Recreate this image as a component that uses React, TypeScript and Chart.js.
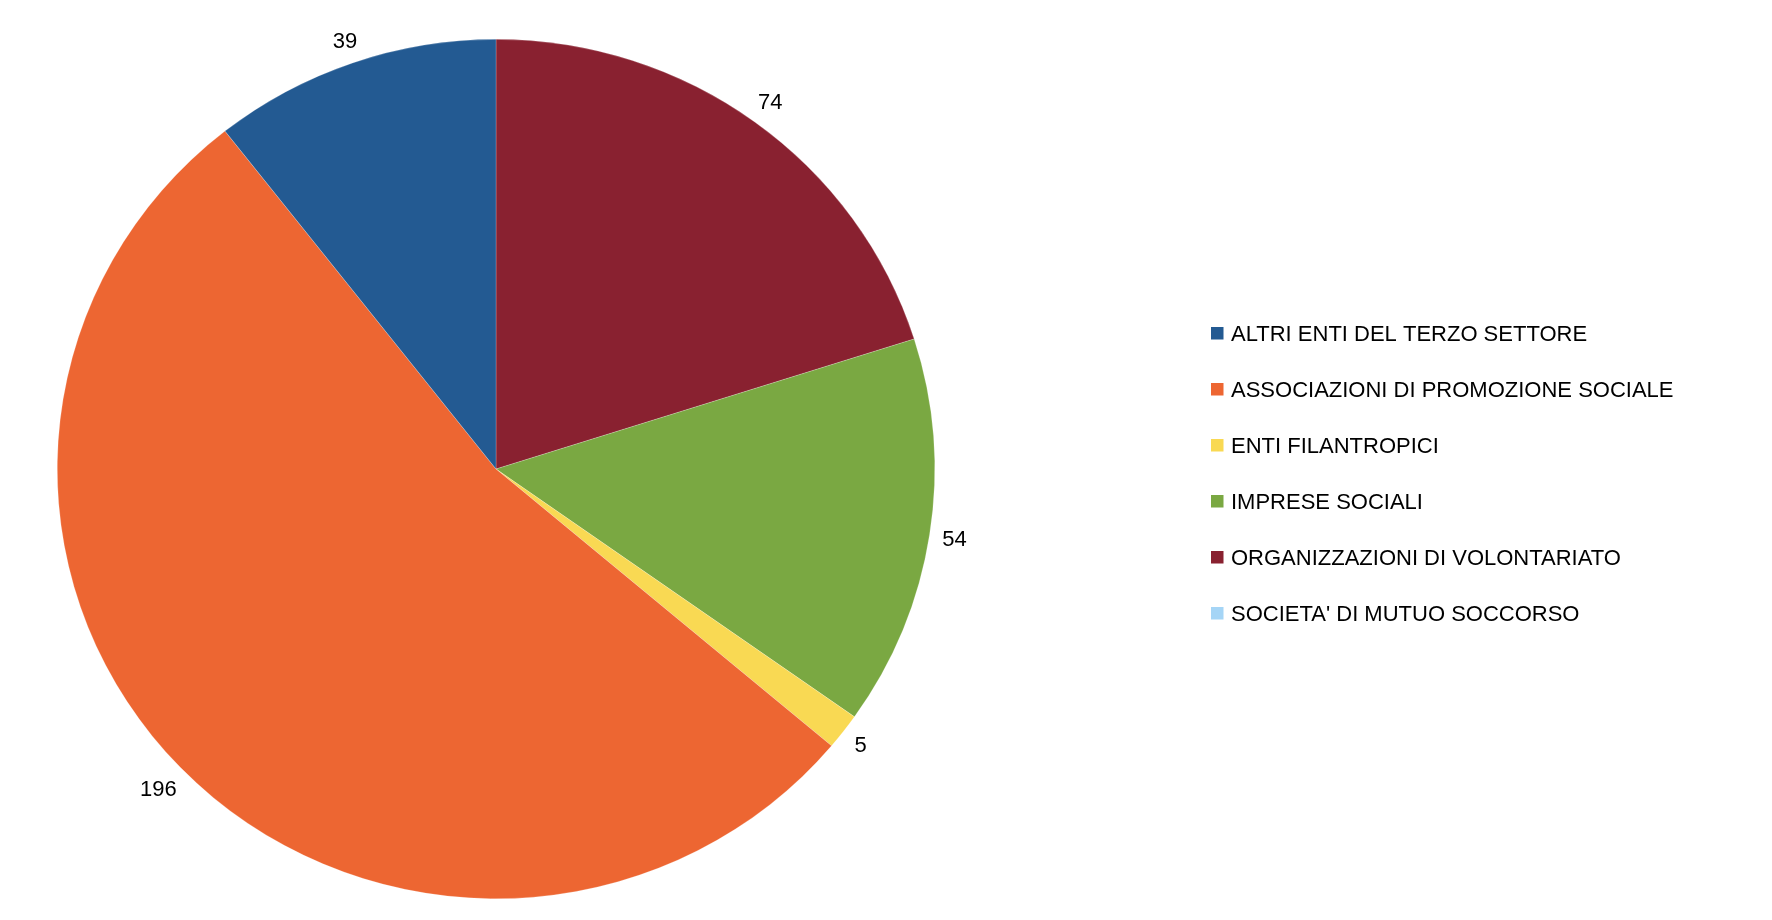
import { useEffect, useRef } from 'react';
import { Chart, registerables } from 'chart.js';

Chart.register(...registerables);

// legend order (as in the reference)
const categories = [
  'ALTRI ENTI DEL TERZO SETTORE',
  'ASSOCIAZIONI DI PROMOZIONE SOCIALE',
  'ENTI FILANTROPICI',
  'IMPRESE SOCIALI',
  'ORGANIZZAZIONI DI VOLONTARIATO',
  "SOCIETA' DI MUTUO SOCCORSO",
];
const counts = [39, 196, 5, 54, 74, 0];
const colors = ['#235a92', '#ed6632', '#f9d953', '#7aa842', '#892130', '#a5d5f6'];

const FONT = '"Liberation Sans", Arial, sans-serif';
const STRETCH_X = 1.021; // the reference pie is a touch wider than tall

// the reference runs counter-clockwise from 12 o'clock; Chart.js runs clockwise
const pieLabels = [...categories].reverse();
const pieValues = [...counts].reverse();
const pieColors = [...colors].reverse();

const stretchPie = {
  id: 'stretchPie',
  beforeDatasetsDraw(chart: Chart) {
    const { ctx, chartArea } = chart;
    const cx = (chartArea.left + chartArea.right) / 2;
    ctx.save();
    ctx.translate(cx, 0);
    ctx.scale(STRETCH_X, 1);
    ctx.translate(-cx, 0);
  },
  afterDatasetsDraw(chart: Chart) {
    chart.ctx.restore();
  },
};

const valueLabels = {
  id: 'valueLabels',
  afterDatasetsDraw(chart: Chart) {
    const ctx = chart.ctx;
    const meta = chart.getDatasetMeta(0);
    const values = chart.data.datasets[0].data as number[];
    ctx.save();
    ctx.font = `22px ${FONT}`;
    ctx.fillStyle = '#000';
    ctx.textAlign = 'center';
    ctx.textBaseline = 'middle';
    meta.data.forEach((arc: any, i: number) => {
      if (!values[i]) return;
      const p = arc.getProps(['x', 'y', 'startAngle', 'endAngle', 'outerRadius'], true);
      const mid = (p.startAngle + p.endAngle) / 2;
      const c = Math.cos(mid);
      const s = Math.sin(mid);
      const text = String(values[i]);
      const halfW = ctx.measureText(text).width / 2;
      const d = 12 + halfW * Math.abs(c) + 8 * Math.abs(s);
      const x = p.x + c * p.outerRadius * STRETCH_X + c * d;
      const y = p.y + s * p.outerRadius + s * d;
      ctx.fillText(text, x, y + 1);
    });
    ctx.restore();
  },
};

const sideLegend = {
  id: 'sideLegend',
  afterDraw(chart: Chart) {
    const ctx = chart.ctx;
    ctx.save();
    ctx.font = `22px ${FONT}`;
    ctx.textBaseline = 'middle';
    categories.forEach((name, i) => {
      const y = 333.5 + i * 56;
      ctx.fillStyle = colors[i];
      ctx.fillRect(1211, y - 6.5, 12.5, 12.5);
      ctx.fillStyle = '#000';
      ctx.fillText(name, 1231, y + 1);
    });
    ctx.restore();
  },
};

export default function App() {
  const canvasRef = useRef<HTMLCanvasElement>(null);

  useEffect(() => {
    document.body.style.margin = '0';
    if (!canvasRef.current) return;
    const chart = new Chart(canvasRef.current, {
      type: 'pie',
      data: {
        labels: pieLabels,
        datasets: [{
          data: pieValues,
          backgroundColor: pieColors,
          borderColor: 'rgba(255,255,255,0.35)',
          borderWidth: 0.6,
        }],
      },
      options: {
        responsive: false,
        animation: false,
        layout: { padding: { left: 66, top: 39, right: 846, bottom: 21 } },
        plugins: {
          legend: { display: false },
          tooltip: { enabled: false },
        },
      },
      plugins: [stretchPie, valueLabels, sideLegend],
    });
    return () => chart.destroy();
  }, []);

  return (
    <div style={{ width: 1772, height: 920, background: '#fff' }}>
      <canvas ref={canvasRef} width={1772} height={920} />
    </div>
  );
}
